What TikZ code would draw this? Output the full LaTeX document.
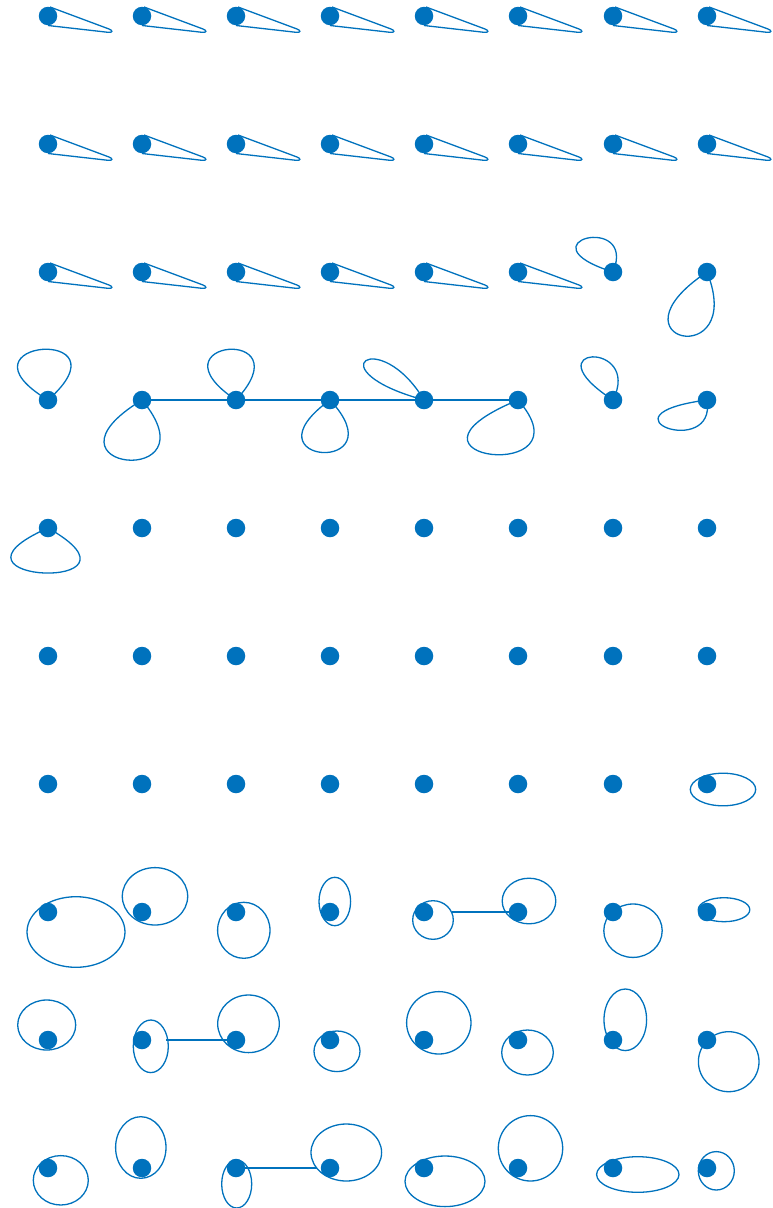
\documentclass[tikz,border=0pt]{standalone}
\definecolor{mblue}{RGB}{0,114,189}
\newcommand\teardrop[1]{\draw[edge,shift={(#1.center)}] (2,-9) -- (61,13) .. controls (65,14.5) and (65,16.8) .. (60,16.3) -- (0,9.5);}
\newcommand\selfloop[3]{\draw[edge,shift={(#1.center)}] (0,0) .. controls (#2) and (#3) .. (0,0);}
\newcommand\ringat[5]{\draw[edge] ([shift={(#2,#3)}]#1.center) ellipse [x radius=#4pt, y radius=#5pt];}
\begin{document}
\begin{tikzpicture}[x=1pt,y=-1pt,
  dot/.style={circle,fill=mblue,inner sep=0pt,minimum size=18.5pt},
  edge/.style={draw=mblue,line width=1.3pt}]
\useasboundingbox (0,0) rectangle (773,1208);
\foreach \yy [count=\r] in {16,144,272,400,528,656,784,912,1040,1168}{
  \foreach \xx [count=\c] in {48,142,236,330,424,518,613,707}{
    \node[dot] (r\r c\c) at (\xx,\yy) {};
  }}
% teardrop loops
\foreach \r in {1,2}{\foreach \c in {1,...,8}{\teardrop{r\r c\c}}}
\foreach \c in {1,...,6}{\teardrop{r3c\c}}
% self loops
\selfloop{r3c7}{25,-60}{-95,-30}
\selfloop{r3c8}{-105,70}{40,100}
\selfloop{r4c1}{85,-75}{-100,-60}
\selfloop{r4c2}{-115,70}{75,90}
\selfloop{r4c3}{70,-75}{-90,-60}
\selfloop{r4c4}{-90,65}{70,75}
\selfloop{r4c5}{-45,-75}{-110,-30}
\selfloop{r4c6}{-145,60}{75,85}
\selfloop{r4c7}{30,-60}{-85,-55}
\selfloop{r4c8}{-115,15}{10,60}
\selfloop{r5c1}{-125,55}{115,65}
% edges
\draw[edge] (r4c2) -- (r4c3) -- (r4c4) -- (r4c5) -- (r4c6);
\draw[edge,shorten <=19pt] (r8c5) -- (r8c6);
\draw[edge,shorten <=15pt] (r9c2) -- (r9c3);
\draw[edge,shorten >=4pt] (r10c3) -- (r10c4);
% ellipse loops
\ringat{r7c8}{16}{5.5}{32.7}{16.3}
\ringat{r8c1}{28}{20}{49}{35.3}
\ringat{r8c2}{13}{-15.7}{32.7}{28.7}
\ringat{r8c3}{7.8}{18.3}{26.2}{28}
\ringat{r8c4}{4.8}{-10.5}{15.8}{24.2}
\ringat{r8c5}{9}{8}{20.3}{19.3}
\ringat{r8c6}{11}{-11}{26.8}{22.8}
\ringat{r8c7}{20}{18.7}{29.2}{26.7}
\ringat{r8c8}{17}{-2.3}{25.8}{12}
\ringat{r9c1}{-1.3}{-15}{29}{25}
\ringat{r9c2}{8.8}{6.3}{17.5}{26.3}
\ringat{r9c3}{12.5}{-16.2}{30.8}{28.8}
\ringat{r9c4}{7}{11.3}{23}{20.3}
\ringat{r9c5}{14.8}{-17.2}{32.2}{31.2}
\ringat{r9c6}{9.5}{12.5}{25.8}{22.5}
\ringat{r9c7}{12.3}{-20.2}{21.3}{30.8}
\ringat{r9c8}{21.7}{21.7}{30.3}{30}
\ringat{r10c1}{12.8}{12.3}{27.5}{24.7}
\ringat{r10c2}{-1.2}{-20.5}{25.2}{30.8}
\ringat{r10c3}{0.7}{16}{15}{24}
\ringat{r10c4}{16.3}{-15.5}{35.3}{28.5}
\ringat{r10c5}{21}{13.3}{40}{25.3}
\ringat{r10c6}{12.5}{-19.7}{32.2}{32.7}
\ringat{r10c7}{24.8}{6.5}{41.2}{17.8}
\ringat{r10c8}{9.3}{2.8}{18}{19.2}
\end{tikzpicture}
\end{document}
